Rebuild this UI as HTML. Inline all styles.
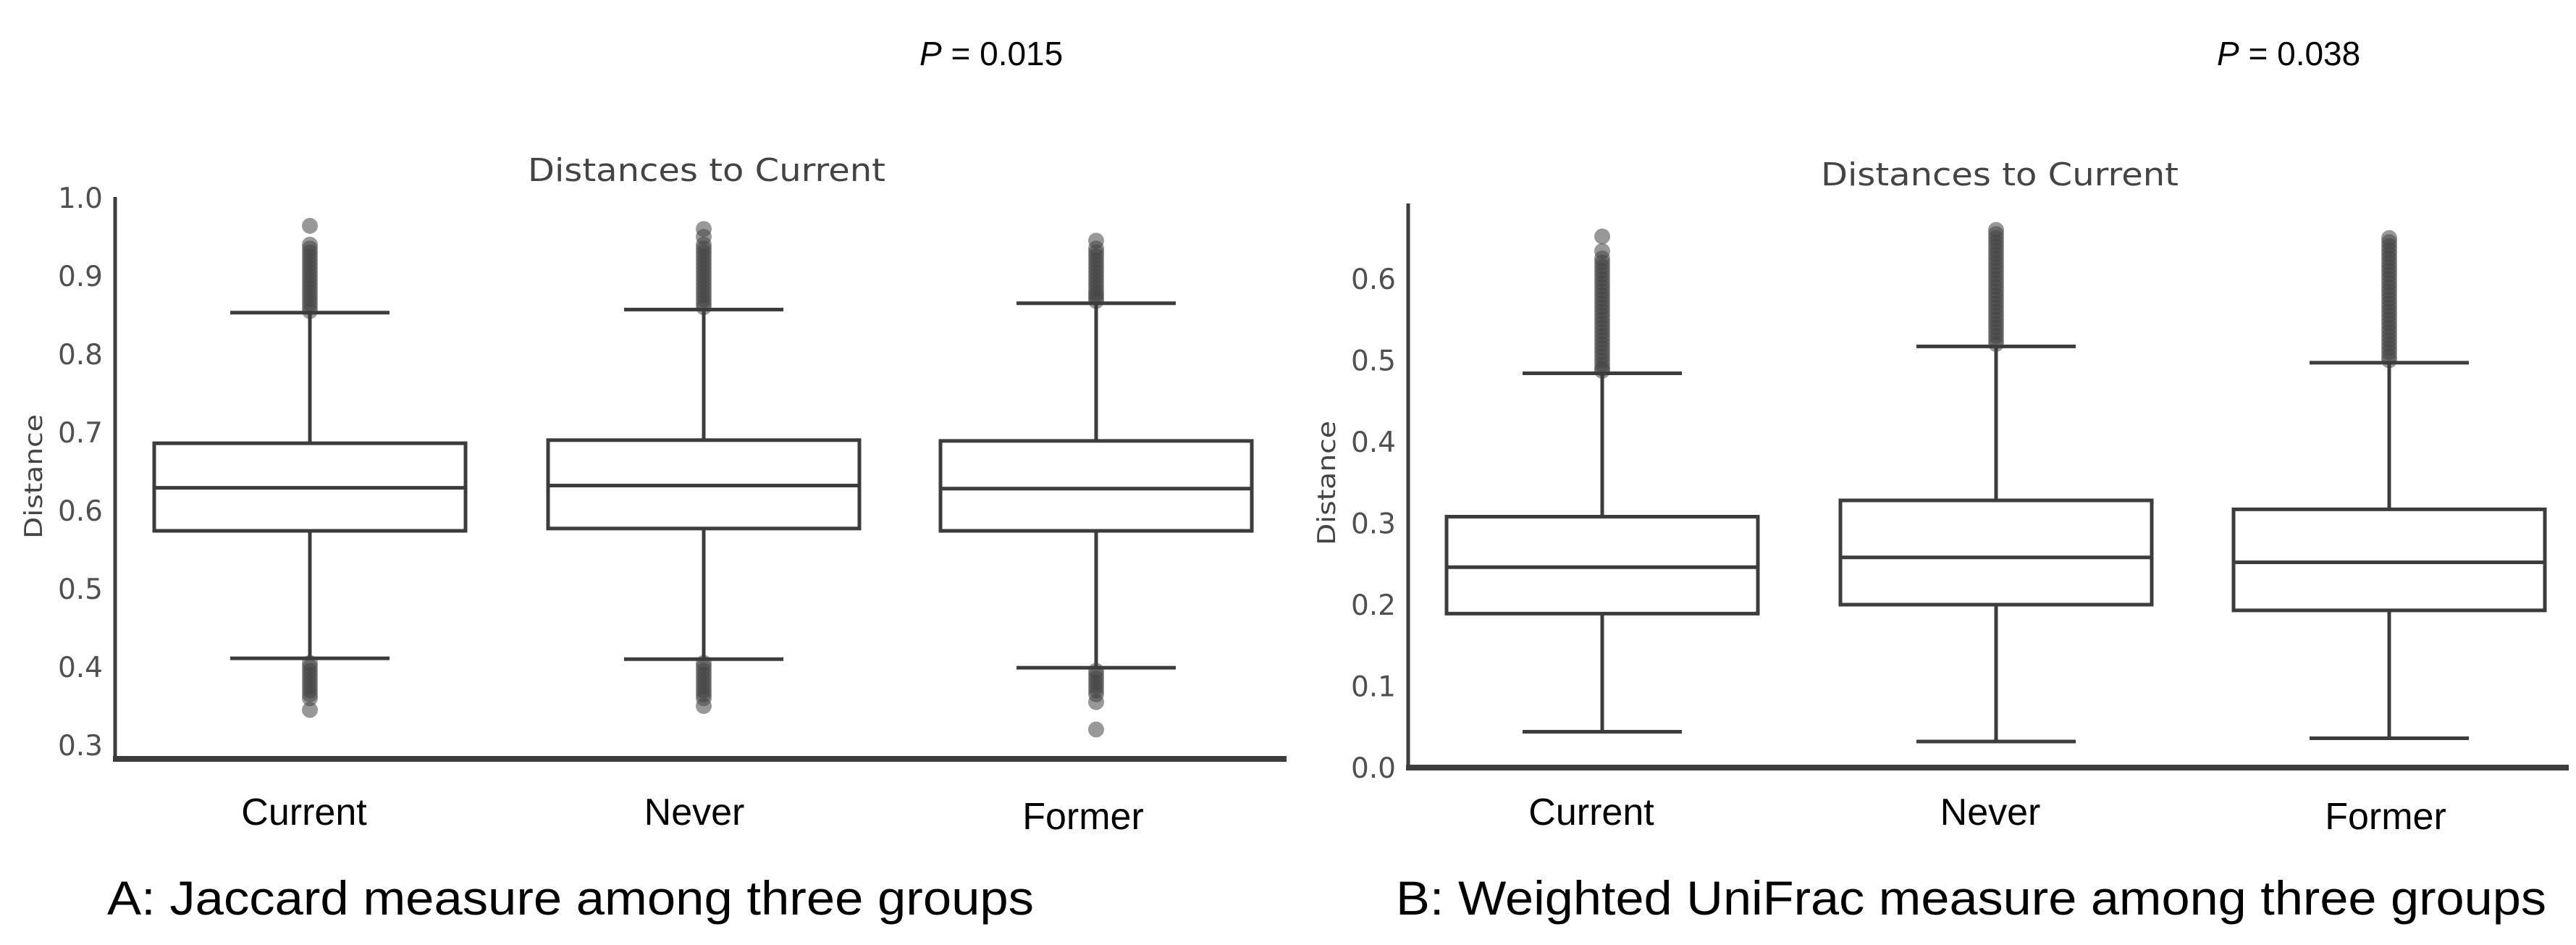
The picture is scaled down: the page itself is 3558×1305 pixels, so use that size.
<!DOCTYPE html>
<html><head><meta charset="utf-8"><style>
html,body{margin:0;padding:0;background:#fff;}
svg{display:block;}
</style></head><body>
<svg id="fig" width="3558" height="1305" viewBox="0 0 3558 1305" xmlns="http://www.w3.org/2000/svg">
<rect width="3558" height="1305" fill="#fff"/>
<g id="panelA"></g>
<g id="panelB"></g>
<text x="1270" y="90" font-family="Liberation Sans, sans-serif" font-size="46" fill="#000"><tspan font-style="italic">P</tspan> = 0.015</text>
<text x="3062" y="90" font-family="Liberation Sans, sans-serif" font-size="46" fill="#000"><tspan font-style="italic">P</tspan> = 0.038</text>
<text x="148" y="1263" font-family="Liberation Sans, sans-serif" font-size="66" fill="#000" textLength="1280" lengthAdjust="spacingAndGlyphs">A: Jaccard measure among three groups</text>
<text x="1928" y="1263" font-family="Liberation Sans, sans-serif" font-size="66" fill="#000" textLength="1589" lengthAdjust="spacingAndGlyphs">B: Weighted UniFrac measure among three groups</text>
</svg>
<script>
const categories = ["Current","Never","Former"];
// Panel A (Jaccard)
const aTicks = [0.3,0.4,0.5,0.6,0.7,0.8,0.9,1.0];
const aTickLabels = ["0.3","0.4","0.5","0.6","0.7","0.8","0.9","1.0"];
const aQ1 = [0.574,0.577,0.574];
const aMedian = [0.629,0.632,0.628];
const aQ3 = [0.686,0.690,0.689];
const aWhiskLo = [0.411,0.410,0.399];
const aWhiskHi = [0.853,0.857,0.865];
const aOutliersHi = [
  [0.855,0.86,0.865,0.87,0.875,0.88,0.885,0.89,0.895,0.90,0.905,0.91,0.915,0.92,0.925,0.93,0.935,0.94,0.964],
  [0.86,0.865,0.87,0.875,0.88,0.885,0.89,0.895,0.90,0.905,0.91,0.915,0.92,0.925,0.93,0.935,0.94,0.95,0.96],
  [0.868,0.872,0.876,0.88,0.885,0.89,0.895,0.90,0.905,0.91,0.915,0.92,0.925,0.93,0.935,0.945]
];
const aOutliersLo = [
  [0.405,0.40,0.395,0.39,0.385,0.38,0.375,0.37,0.365,0.36,0.345],
  [0.405,0.40,0.395,0.39,0.385,0.38,0.375,0.37,0.365,0.36,0.35],
  [0.395,0.39,0.385,0.38,0.375,0.37,0.365,0.355,0.32]
];
// Panel B (Weighted UniFrac)
const bTicks = [0.0,0.1,0.2,0.3,0.4,0.5,0.6];
const bTickLabels = ["0.0","0.1","0.2","0.3","0.4","0.5","0.6"];
const bQ1 = [0.189,0.200,0.193];
const bMedian = [0.246,0.258,0.252];
const bQ3 = [0.308,0.328,0.317];
const bWhiskLo = [0.044,0.032,0.036];
const bWhiskHi = [0.484,0.517,0.497];
const bOutliersHi = [
  [0.487,0.49,0.495,0.50,0.505,0.51,0.515,0.52,0.525,0.53,0.535,0.54,0.545,0.55,0.555,0.56,0.565,0.57,0.575,0.58,0.585,0.59,0.595,0.60,0.605,0.61,0.615,0.62,0.625,0.634,0.652],
  [0.52,0.525,0.53,0.535,0.54,0.545,0.55,0.555,0.56,0.565,0.57,0.575,0.58,0.585,0.59,0.595,0.60,0.605,0.61,0.615,0.62,0.625,0.63,0.635,0.64,0.645,0.65,0.655,0.66],
  [0.50,0.505,0.51,0.515,0.52,0.525,0.53,0.535,0.54,0.545,0.55,0.555,0.56,0.565,0.57,0.575,0.58,0.585,0.59,0.595,0.60,0.605,0.61,0.615,0.62,0.625,0.63,0.635,0.64,0.645,0.65]
];
const bOutliersLo = [[],[],[]];

const NS = "http://www.w3.org/2000/svg";
function mk(parent, tag, attrs){
  const e = document.createElementNS(NS, tag);
  for (const k in attrs) e.setAttribute(k, attrs[k]);
  parent.appendChild(e);
  return e;
}
function drawPanel(g, cfg){
  const y = v => cfg.y0 + (v - cfg.v0) * cfg.k;
  const LC = "#3c3c3c";
  const ya = mk(g,"line",{x1:cfg.ax,y1:cfg.axTop,x2:cfg.ax,y2:cfg.axBot,stroke:LC,"stroke-width":5});
  
  
  const xa = mk(g,"line",{x1:cfg.ax-3,y1:cfg.axBot,x2:cfg.axRight,y2:cfg.axBot,stroke:LC,"stroke-width":8});
  
  
  cfg.ticks.forEach((t,i)=>{
    const tx = mk(g,"text",{x:cfg.ax-17,y:y(t)+14,"text-anchor":"end","font-family":"DejaVu Sans, sans-serif","font-size":39,fill:"#505050"});
    tx.textContent = cfg.tickLabels[i];
    
    
  });
  const tt = mk(g,"text",{x:cfg.titleX,y:cfg.titleY,"text-anchor":"middle","font-family":"DejaVu Sans, sans-serif","font-size":44,fill:"#444",textLength:494,lengthAdjust:"spacingAndGlyphs"});
  tt.textContent = "Distances to Current";
  
  
  const yl = mk(g,"text",{x:0,y:0,"text-anchor":"middle","font-family":"DejaVu Sans, sans-serif","font-size":34,fill:"#444",textLength:172,lengthAdjust:"spacingAndGlyphs",transform:`translate(${cfg.ylabX},${cfg.ylabY}) rotate(-90)`});
  yl.textContent = "Distance";
  
  
  categories.forEach((c,i)=>{
    const cx = cfg.centers[i];
    const grp = mk(g,"g",{});
    
    
    const dots = cfg.outHi[i].concat(cfg.outLo[i]);
    dots.forEach(v=>{
      const d = mk(grp,"circle",{cx:cx,cy:y(v),r:11,fill:"#444","fill-opacity":0.55});
      
      
    });
    mk(grp,"line",{x1:cx,y1:y(cfg.q3[i]),x2:cx,y2:y(cfg.hi[i]),stroke:LC,"stroke-width":5});
    mk(grp,"line",{x1:cx,y1:y(cfg.q1[i]),x2:cx,y2:y(cfg.lo[i]),stroke:LC,"stroke-width":5});
    mk(grp,"line",{x1:cx-110,y1:y(cfg.hi[i]),x2:cx+110,y2:y(cfg.hi[i]),stroke:LC,"stroke-width":5});
    mk(grp,"line",{x1:cx-110,y1:y(cfg.lo[i]),x2:cx+110,y2:y(cfg.lo[i]),stroke:LC,"stroke-width":5});
    const top = y(cfg.q3[i]), bot = y(cfg.q1[i]);
    mk(grp,"rect",{x:cx-215,y:Math.min(top,bot),width:430,height:Math.abs(bot-top),fill:"#fff",stroke:LC,"stroke-width":5});
    mk(grp,"line",{x1:cx-215,y1:y(cfg.med[i]),x2:cx+215,y2:y(cfg.med[i]),stroke:LC,"stroke-width":5});
    const cl = mk(g,"text",{x:cfg.labX[i],y:cfg.labY[i],"text-anchor":"middle","font-family":"Liberation Sans, sans-serif","font-size":52,fill:"#000"});
    cl.textContent = c;
    
    
  });
}
drawPanel(document.getElementById('panelA'),{
  y0:273, v0:1.0, k:-1080, ax:159, axTop:272, axBot:1048, axRight:1777,
  ticks:aTicks, tickLabels:aTickLabels, titleX:976, titleY:250, ylabX:58, ylabY:658,
  centers:[428,972,1514], q1:aQ1, med:aMedian, q3:aQ3, lo:aWhiskLo, hi:aWhiskHi,
  outHi:aOutliersHi, outLo:aOutliersLo, labX:[420,959,1496], labY:[1139,1139,1145]
});
drawPanel(document.getElementById('panelB'),{
  y0:1060, v0:0.0, k:-1125, ax:1945, axTop:281, axBot:1060, axRight:3548,
  ticks:bTicks, tickLabels:bTickLabels, titleX:2762, titleY:256, ylabX:1844, ylabY:667,
  centers:[2213,2757,3300], q1:bQ1, med:bMedian, q3:bQ3, lo:bWhiskLo, hi:bWhiskHi,
  outHi:bOutliersHi, outLo:bOutliersLo, labX:[2198,2749,3295], labY:[1139,1139,1145]
});
</script>
</body></html>
